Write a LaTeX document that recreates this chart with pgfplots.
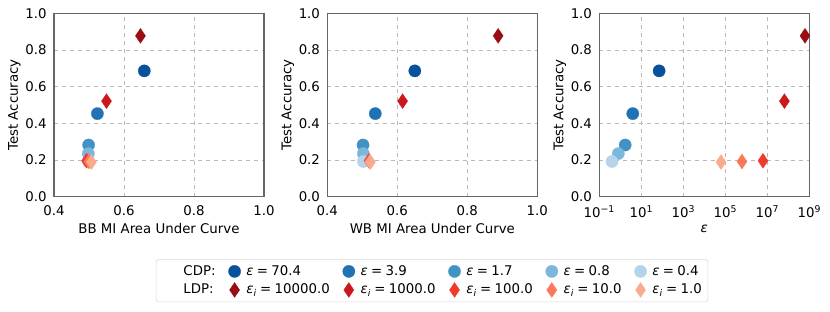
\documentclass[border=0pt]{standalone}
\usepackage{fontspec}
\setmainfont{DejaVu Sans}
\usepackage{pgfplots}
\pgfplotsset{compat=1.18}
\definecolor{cA}{HTML}{08519C}
\definecolor{cB}{HTML}{2171B5}
\definecolor{cC}{HTML}{4292C6}
\definecolor{cD}{HTML}{7CB6DB}
\definecolor{cE}{HTML}{B5D3EA}
\definecolor{lA}{HTML}{9B0D14}
\definecolor{lB}{HTML}{CB181D}
\definecolor{lC}{HTML}{EF3B2C}
\definecolor{lD}{HTML}{FB7858}
\definecolor{lE}{HTML}{FCAA8E}
\newcommand{\eq}{\hspace{0.25em}=\hspace{0.25em}}
\newcommand{\ep}{\textit{ε}}
\newcommand{\epi}{\textit{ε}\textsubscript{\textit{i}}}
\pgfplotsset{
  cdp/.style={only marks, mark=*, mark size=4.6pt, color=#1, mark options={fill=#1, draw=#1, line width=0.2pt}},
  ldp/.style={only marks, mark=diamond*, mark size=5.6pt, color=#1, mark options={fill=#1, draw=#1, line width=0.2pt, xscale=0.9}},
  myax/.style={
    scale only axis, width=157.5pt, height=137.6pt, anchor=south west,
    ymin=0, ymax=1, ytick={0,0.2,0.4,0.6,0.8,1.0},
    yticklabels={0.0,0.2,0.4,0.6,0.8,1.0},
    grid=major, grid style={dashed, gray!55, line width=0.45pt},
    major tick length=0pt, minor tick length=0pt,
    axis line style={black!60, line width=0.8pt},
    tick label style={font=\fontsize{10}{12}\selectfont},
    label style={font=\fontsize{10}{12}\selectfont},
    xticklabel shift=3pt, yticklabel shift=2pt,
    ylabel={Test Accuracy},
    ylabel style={at={(axis description cs:-0.188,0.5)}, anchor=center},
    xlabel style={at={(axis description cs:0.5,-0.175)}, anchor=center},
    legend image code/.code={\path[draw=none,fill=none] (-0.29cm,0cm) -- (0.24cm,0cm);\draw[mark repeat=2,mark phase=2] plot coordinates {(-0.1cm,0cm) (0cm,0cm) (0.1cm,0cm)};},
  },
  linax/.style={xmin=0.4, xmax=1.0, xtick={0.4,0.6,0.8,1.0}, xticklabels={0.4,0.6,0.8,1.0}},
}
\begin{document}
\begin{tikzpicture}
\useasboundingbox (0,0) rectangle (622.5pt,233.25pt);
% Panel 1: BB
\begin{axis}[myax, linax, at={(40.5pt,85.7pt)}, xlabel={BB MI Area Under Curve},
  legend columns=6,
  legend cell align=left,
  legend style={at={(1.8,-0.4575)}, anchor=center, draw=gray!30, rounded corners=2pt,
    font=\fontsize{10}{12}\selectfont, inner sep=2.5pt,
    /tikz/every even column/.append style={column sep=4pt},
    /tikz/every odd column/.append style={column sep=0pt},
    row sep=1pt},
]
\addlegendimage{empty legend}\addlegendentry{\hspace*{16pt}CDP:}
\addplot[cdp=cA] coordinates {(0.658,0.686)}; \addlegendentry{\ep\eq 70.4}
\addplot[cdp=cB] coordinates {(0.524,0.453)}; \addlegendentry{\ep\eq 3.9}
\addplot[cdp=cC] coordinates {(0.499,0.282)}; \addlegendentry{\ep\eq 1.7}
\addplot[cdp=cD] coordinates {(0.498,0.235)}; \addlegendentry{\ep\eq 0.8}
\addplot[cdp=cE] coordinates {(0.498,0.192)}; \addlegendentry{\ep\eq 0.4}
\addlegendimage{empty legend}\addlegendentry{\hspace*{16pt}LDP:}
\addplot[ldp=lA] coordinates {(0.647,0.877)}; \addlegendentry{\epi\eq 10000.0}
\addplot[ldp=lB] coordinates {(0.550,0.521)}; \addlegendentry{\epi\eq 1000.0}
\addplot[ldp=lC] coordinates {(0.493,0.196)}; \addlegendentry{\epi\eq 100.0}
\addplot[ldp=lD] coordinates {(0.500,0.192)}; \addlegendentry{\epi\eq 10.0}
\addplot[ldp=lE] coordinates {(0.507,0.189)}; \addlegendentry{\epi\eq 1.0}
\end{axis}
% Panel 2: WB
\begin{axis}[myax, linax, at={(245.5pt,85.7pt)}, xlabel={WB MI Area Under Curve}]
\addplot[cdp=cA] coordinates {(0.650,0.686)};
\addplot[cdp=cB] coordinates {(0.537,0.453)};
\addplot[cdp=cC] coordinates {(0.502,0.282)};
\addplot[cdp=cD] coordinates {(0.503,0.235)};
\addplot[cdp=cE] coordinates {(0.503,0.192)};
\addplot[ldp=lA] coordinates {(0.888,0.877)};
\addplot[ldp=lB] coordinates {(0.615,0.521)};
\addplot[ldp=lC] coordinates {(0.519,0.196)};
\addplot[ldp=lD] coordinates {(0.521,0.192)};
\addplot[ldp=lE] coordinates {(0.523,0.189)};
\end{axis}
% Panel 3: epsilon
\begin{axis}[myax, at={(449.5pt,85.7pt)}, xmode=log, xmin=0.1, xmax=1e9,
  xtick={0.1,10,1000,100000,10000000,1000000000},
  xticklabels={10\textsuperscript{−1},10\textsuperscript{1},10\textsuperscript{3},10\textsuperscript{5},10\textsuperscript{7},10\textsuperscript{9}},
  xlabel={\textit{ε}}]
\addplot[cdp=cA] coordinates {(70.4,0.686)};
\addplot[cdp=cB] coordinates {(3.9,0.453)};
\addplot[cdp=cC] coordinates {(1.7,0.282)};
\addplot[cdp=cD] coordinates {(0.8,0.235)};
\addplot[cdp=cE] coordinates {(0.4,0.192)};
\addplot[ldp=lA] coordinates {(6.2e8,0.877)};
\addplot[ldp=lB] coordinates {(6.5e7,0.521)};
\addplot[ldp=lC] coordinates {(6.2e6,0.196)};
\addplot[ldp=lD] coordinates {(6.2e5,0.192)};
\addplot[ldp=lE] coordinates {(6.2e4,0.189)};
\end{axis}
\end{tikzpicture}
\end{document}
